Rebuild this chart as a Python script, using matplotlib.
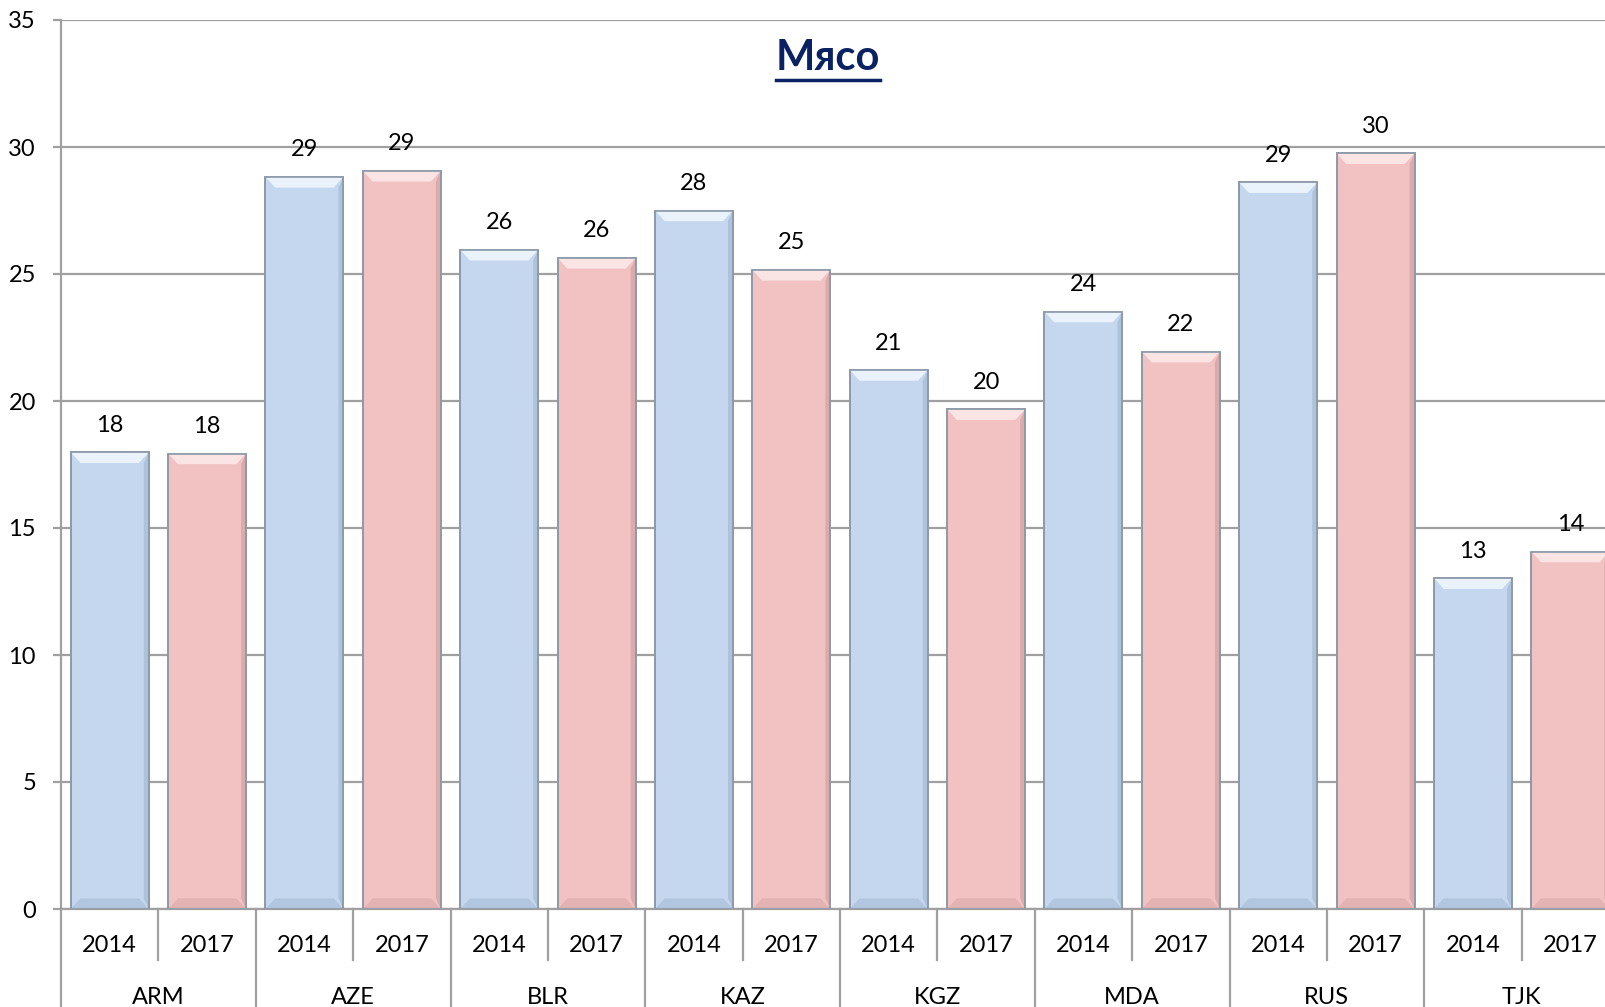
import numpy as np
import matplotlib.pyplot as plt
from matplotlib.patches import Polygon
from matplotlib.lines import Line2D

plt.rcParams['font.family'] = ['Lato', 'DejaVu Sans']

# dati
countries = ['ARM', 'AZE', 'BLR', 'KAZ', 'KGZ', 'MDA', 'RUS', 'TJK']
years = ['2014', '2017']
vals_2014 = [17.98, 28.82, 25.95, 27.5, 21.22, 23.52, 28.61, 13.02]
vals_2017 = [17.93, 29.06, 25.63, 25.16, 19.67, 21.94, 29.75, 14.07]
title = 'Мясо'

face = {'2014': '#C4D7EE', '2017': '#F2C1C2'}
top_c = {'2014': '#EAF3FC', '2017': '#FBE4E4'}
bot_c = {'2014': '#A8BCD6', '2017': '#D9A8A9'}
side_c = {'2014': '#9FB4CF', '2017': '#CC9D9E'}
grid_c = '#A0A0A0'
fs = 17

W, H = 1605, 1007
fig = plt.figure(figsize=(W / 100, H / 100), dpi=100)
ax = fig.add_axes([61 / W, 1 - 909 / H, 1558 / W, 889 / H])

n = len(countries)
values = []
for a, b in zip(vals_2014, vals_2017):
    values += [a, b]
xs = np.arange(2 * n)
bw = 0.8

ax.set_xlim(-0.5, 2 * n - 0.5)
ax.set_ylim(0, 35)
ax.set_yticks(np.arange(0, 36, 5))
ax.yaxis.grid(True, color=grid_c, lw=1.6)
ax.set_axisbelow(True)
for s in ['top', 'right']:
    ax.spines[s].set_visible(False)
ax.spines['left'].set_color(grid_c)
ax.spines['left'].set_linewidth(1.6)
ax.spines['bottom'].set_color(grid_c)
ax.spines['bottom'].set_linewidth(1.6)
ax.tick_params(axis='y', colors=grid_c, length=6, width=1.6, pad=12,
               labelsize=fs, labelcolor='black')
ax.set_xticks([])

dx = 0.1   # bevel orizzontale
dy = 0.42  # bevel verticale
for i, (x, v) in enumerate(zip(xs, values)):
    yr = years[i % 2]
    x0, x1 = x - bw / 2, x + bw / 2
    ax.bar(x, v, width=bw, color=face[yr], edgecolor='#8C99A8', linewidth=1.2, zorder=2)
    # effetto rilievo
    ax.add_patch(Polygon([(x0, v), (x1, v), (x1 - dx, v - dy), (x0 + dx, v - dy)],
                         closed=True, facecolor=top_c[yr], edgecolor='none', zorder=3))
    ax.add_patch(Polygon([(x0, 0), (x1, 0), (x1 - dx, dy), (x0 + dx, dy)],
                         closed=True, facecolor=bot_c[yr], edgecolor='none', alpha=0.6, zorder=3))
    ax.add_patch(Polygon([(x1, 0), (x1, v), (x1 - dx * 0.5, v - dy), (x1 - dx * 0.5, dy)],
                         closed=True, facecolor=side_c[yr], edgecolor='none', alpha=0.6, zorder=3))
    ax.add_patch(Polygon([(x0, v), (x1, v), (x1, 0), (x0, 0)], closed=True,
                         facecolor='none', edgecolor='#8C99A8', linewidth=1.2, zorder=4))
    lab = int(np.floor(v + 0.5))
    ax.annotate(str(lab), (x, v), xytext=(0, 27), textcoords='offset pixels',
                ha='center', va='center', fontsize=fs, zorder=5)

# etichette categorie
tr = ax.get_xaxis_transform()
for i, x in enumerate(xs):
    ax.text(x, -0.041, years[i % 2], transform=tr, ha='center', va='center', fontsize=fs)
    if i % 2 == 1:
        ax.plot([x - 0.5, x - 0.5], [0, -0.057], transform=tr, color=grid_c, lw=1.6, clip_on=False)
for k, c in enumerate(countries):
    ax.text(2 * k + 0.5, -0.1, c, transform=tr, ha='center', va='center', fontsize=fs)
    ax.plot([2 * k - 0.5, 2 * k - 0.5], [0, -0.2], transform=tr, color=grid_c, lw=1.6, clip_on=False)

# titolo sottolineato
t = fig.text(828 / W, 1 - 58 / H, title, ha='center', va='center', fontsize=30,
             fontweight='bold', color='#0A2263')
fig.canvas.draw()
bb = t.get_window_extent()
uy = 1 - 80 / H
fig.add_artist(Line2D([bb.x0 / W, bb.x1 / W], [uy, uy], transform=fig.transFigure,
                      color='#0A2263', lw=2.5))

fig.savefig('out.png', dpi=100)
